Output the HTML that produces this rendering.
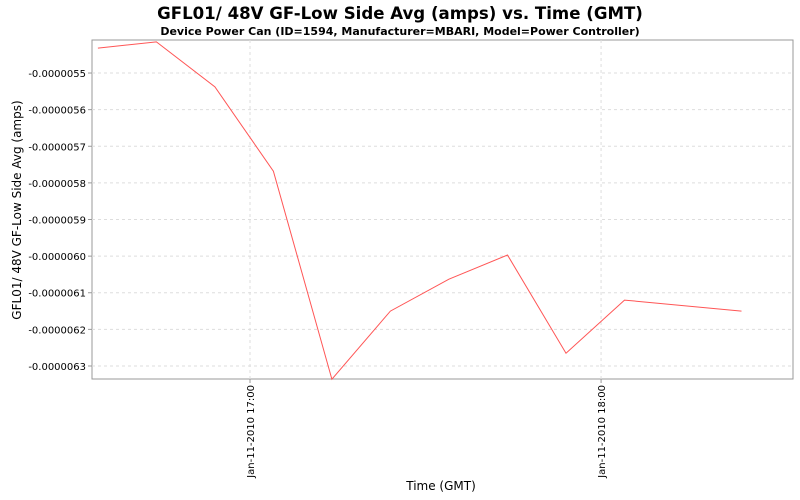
<!DOCTYPE html>
<html><head><meta charset="utf-8"><style>
body{margin:0;background:#fff;font-family:"Liberation Sans","DejaVu Sans",sans-serif}
svg{display:block}
</style></head><body>
<svg id="chart" width="800" height="500">
<text x="400" y="19" text-anchor="middle" font-size="16.6" font-weight="bold" font-family="DejaVu Sans, sans-serif">GFL01/ 48V GF-Low Side Avg (amps) vs. Time (GMT)</text>
<text x="400" y="35" text-anchor="middle" font-size="11" font-weight="bold" font-family="DejaVu Sans, sans-serif">Device Power Can (ID=1594, Manufacturer=MBARI, Model=Power Controller)</text>
<rect x="92" y="40" width="701" height="339" fill="#fff" stroke="#999"/>
<g id="grid"></g><g id="axes"></g>
<text x="441" y="490" text-anchor="middle" font-size="12" font-family="DejaVu Sans, sans-serif">Time (GMT)</text>
<text transform="translate(21,210) rotate(-90)" text-anchor="middle" font-size="12" font-family="DejaVu Sans, sans-serif">GFL01/ 48V GF-Low Side Avg (amps)</text>
<path id="series" fill="none" stroke="#ff5555" stroke-width="1"/>
</svg>
<script>
// minutes after 17:00 GMT, Jan-11-2010
const times = [-26,-16,-6,4,14,24,34,44,54,64,84];
const values = [-5.432e-6,-5.415e-6,-5.538e-6,-5.768e-6,-6.336e-6,-6.150e-6,-6.063e-6,-5.997e-6,-6.265e-6,-6.120e-6,-6.150e-6];
const yTicks = [-5.5e-6,-5.6e-6,-5.7e-6,-5.8e-6,-5.9e-6,-6.0e-6,-6.1e-6,-6.2e-6,-6.3e-6];
const yTickLabels = ["-0.0000055","-0.0000056","-0.0000057","-0.0000058","-0.0000059","-0.0000060","-0.0000061","-0.0000062","-0.0000063"];
const xTicks = [0,60];
const xTickLabels = ["Jan-11-2010 17:00","Jan-11-2010 18:00"];

const L=92,R=793,T=40,B=379;
const xMin=-27, xMax=92.8;
const yTop=-5.40984e-6, yBot=-6.33552e-6;
const xs=m=>L+(m-xMin)/(xMax-xMin)*(R-L);
const ys=v=>T+(yTop-v)/(yTop-yBot)*(B-T);
const NS="http://www.w3.org/2000/svg";
const grid=document.getElementById('grid'), axes=document.getElementById('axes');
function mk(tag,attrs,parent){const e=document.createElementNS(NS,tag);for(const k in attrs)e.setAttribute(k,attrs[k]);parent.appendChild(e);return e;}
yTicks.forEach((v,i)=>{
  const y=ys(v);
  const g=mk('line',{x1:L,x2:R,y1:y,y2:y,stroke:'#ddd','stroke-dasharray':'3,3'},grid);
  
  
  mk('line',{x1:L-4,x2:L,y1:y,y2:y,stroke:'#999'},axes);
  const t=mk('text',{x:L-6,y:y+4,'text-anchor':'end','font-size':'10','font-family':'DejaVu Sans, sans-serif'},axes);
  
  
  t.textContent=yTickLabels[i];
});
xTicks.forEach((m,i)=>{
  const x=xs(m);
  const g=mk('line',{x1:x,x2:x,y1:T,y2:B,stroke:'#ddd','stroke-dasharray':'3,3'},grid);
  
  
  mk('line',{x1:x,x2:x,y1:B,y2:B+4,stroke:'#999'},axes);
  const t=mk('text',{transform:`translate(${x+4},${B+6}) rotate(-90)`,'text-anchor':'end','font-size':'10','font-family':'DejaVu Sans, sans-serif'},axes);
  
  
  t.textContent=xTickLabels[i];
});
document.getElementById('series').setAttribute('d',times.map((m,i)=>(i?'L':'M')+xs(m).toFixed(1)+','+ys(values[i]).toFixed(1)).join(''));
</script>
</body></html>
